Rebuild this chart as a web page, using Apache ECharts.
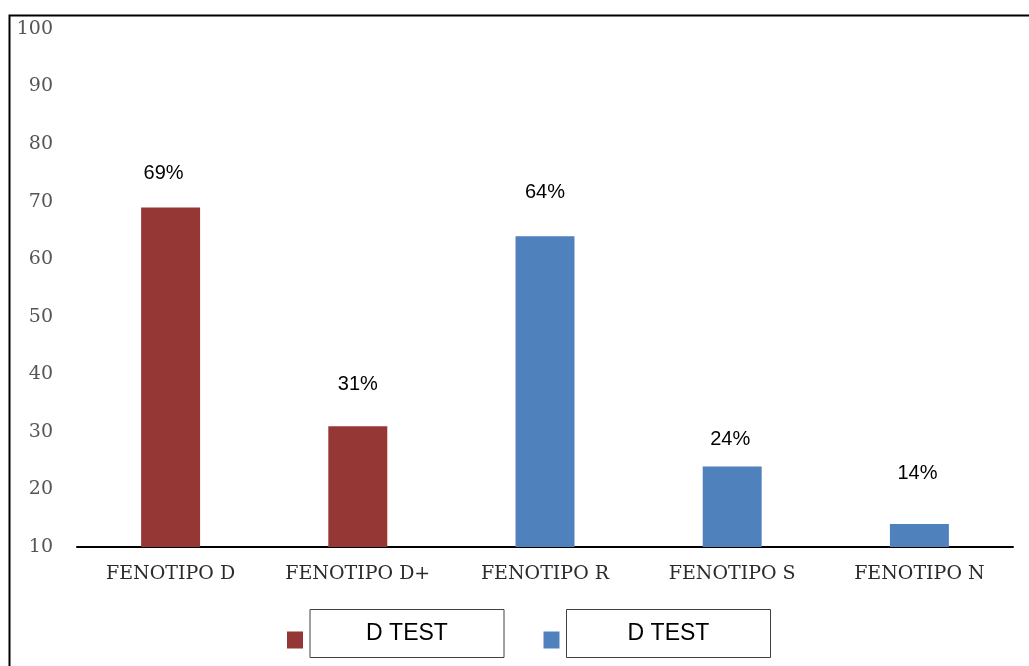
<!DOCTYPE html>
<html>
<head>
<meta charset="utf-8">
<title>Fenotipos</title>
<script src="https://cdn.jsdelivr.net/npm/echarts@6/dist/echarts.min.js"></script>
<style>
  html, body { margin: 0; padding: 0; background: #fff; }
  #chart { width: 1029px; height: 666px; }
</style>
</head>
<body>
<div id="chart"></div>
<script>
// Categories and percentages per phenotype
const categories = ['FENOTIPO D', 'FENOTIPO D+', 'FENOTIPO R', 'FENOTIPO S', 'FENOTIPO N'];
const values = [69, 31, 64, 24, 14];
// Which legend group each bar belongs to (0 = red, 1 = blue)
const groups = [0, 0, 1, 1, 1];
const legendNames = ['D TEST', 'D TEST'];

const colors = ['#953735', '#4F81BD'];
// Vertical gap between each bar top and its label
const labelGap = [24, 32, 34, 17, 40];
const labelShiftX = [-7, 0, 0, -2, -2];

function seriesFor(g) {
  return {
    name: 'grupo' + g,
    type: 'bar',
    stack: 'all',
    barWidth: '31.5%',
    itemStyle: { color: colors[g] },
    data: values.map((v, i) => groups[i] === g ? {
      value: v,
      label: { distance: labelGap[i], offset: [labelShiftX[i], 0] }
    } : '-'),
    label: {
      show: true,
      position: 'top',
      formatter: '{c}%',
      color: '#000',
      fontFamily: 'Liberation Sans, Arial, sans-serif',
      fontSize: 20
    }
  };
}

// Legend label box: outlined text cell after a small gap
const boxStyle = w => ({
  width: w,
  height: 48,
  lineHeight: 48,
  align: 'center',
  color: '#000',
  borderColor: '#404040',
  borderWidth: 1,
  fontFamily: 'Liberation Sans Narrow, Liberation Sans, Arial, sans-serif',
  fontSize: 23
});

const chart = echarts.init(document.getElementById('chart'));
chart.setOption({
  animation: false,
  backgroundColor: '#fff',
  grid: { left: 77, right: 16, top: 29, bottom: 119, containLabel: false },
  xAxis: {
    type: 'category',
    data: categories,
    axisLine: { lineStyle: { color: '#000', width: 2 } },
    axisTick: { show: false },
    axisLabel: {
      interval: 0,
      margin: 18,
      color: '#2b2b2b',
      fontFamily: 'DejaVu Serif, serif',
      fontSize: 19
    }
  },
  yAxis: {
    type: 'value',
    min: 10,
    max: 100,
    interval: 10,
    axisLine: { show: false },
    axisTick: { show: false },
    splitLine: { show: false },
    axisLabel: {
      margin: 24,
      color: '#555',
      fontFamily: 'DejaVu Serif, serif',
      fontSize: 19
    }
  },
  legend: {
    left: 287,
    top: 609,
    padding: 0,
    itemGap: 39,
    itemWidth: 16,
    itemHeight: 30,
    // square sitting low beside the label box
    icon: 'path://M0,0 L0.01,0 Z M0,13 L16,13 L16,30 L0,30 Z',
    data: ['grupo0', 'grupo1'],
    formatter: name => name === 'grupo0'
      ? '{s|}{b0|' + legendNames[0] + '}'
      : '{s|}{b1|' + legendNames[1] + '}',
    textStyle: {
      rich: {
        s: { width: 2 },
        b0: boxStyle(194),
        b1: boxStyle(204)
      }
    }
  },
  graphic: [{
    type: 'rect',
    left: 7,
    top: 13,
    shape: { x: 0, y: 0, width: 1100, height: 700 },
    style: { fill: 'none', stroke: '#000', lineWidth: 2 },
    silent: true,
    z: 10
  }],
  series: [seriesFor(0), seriesFor(1)]
});
</script>
</body>
</html>
